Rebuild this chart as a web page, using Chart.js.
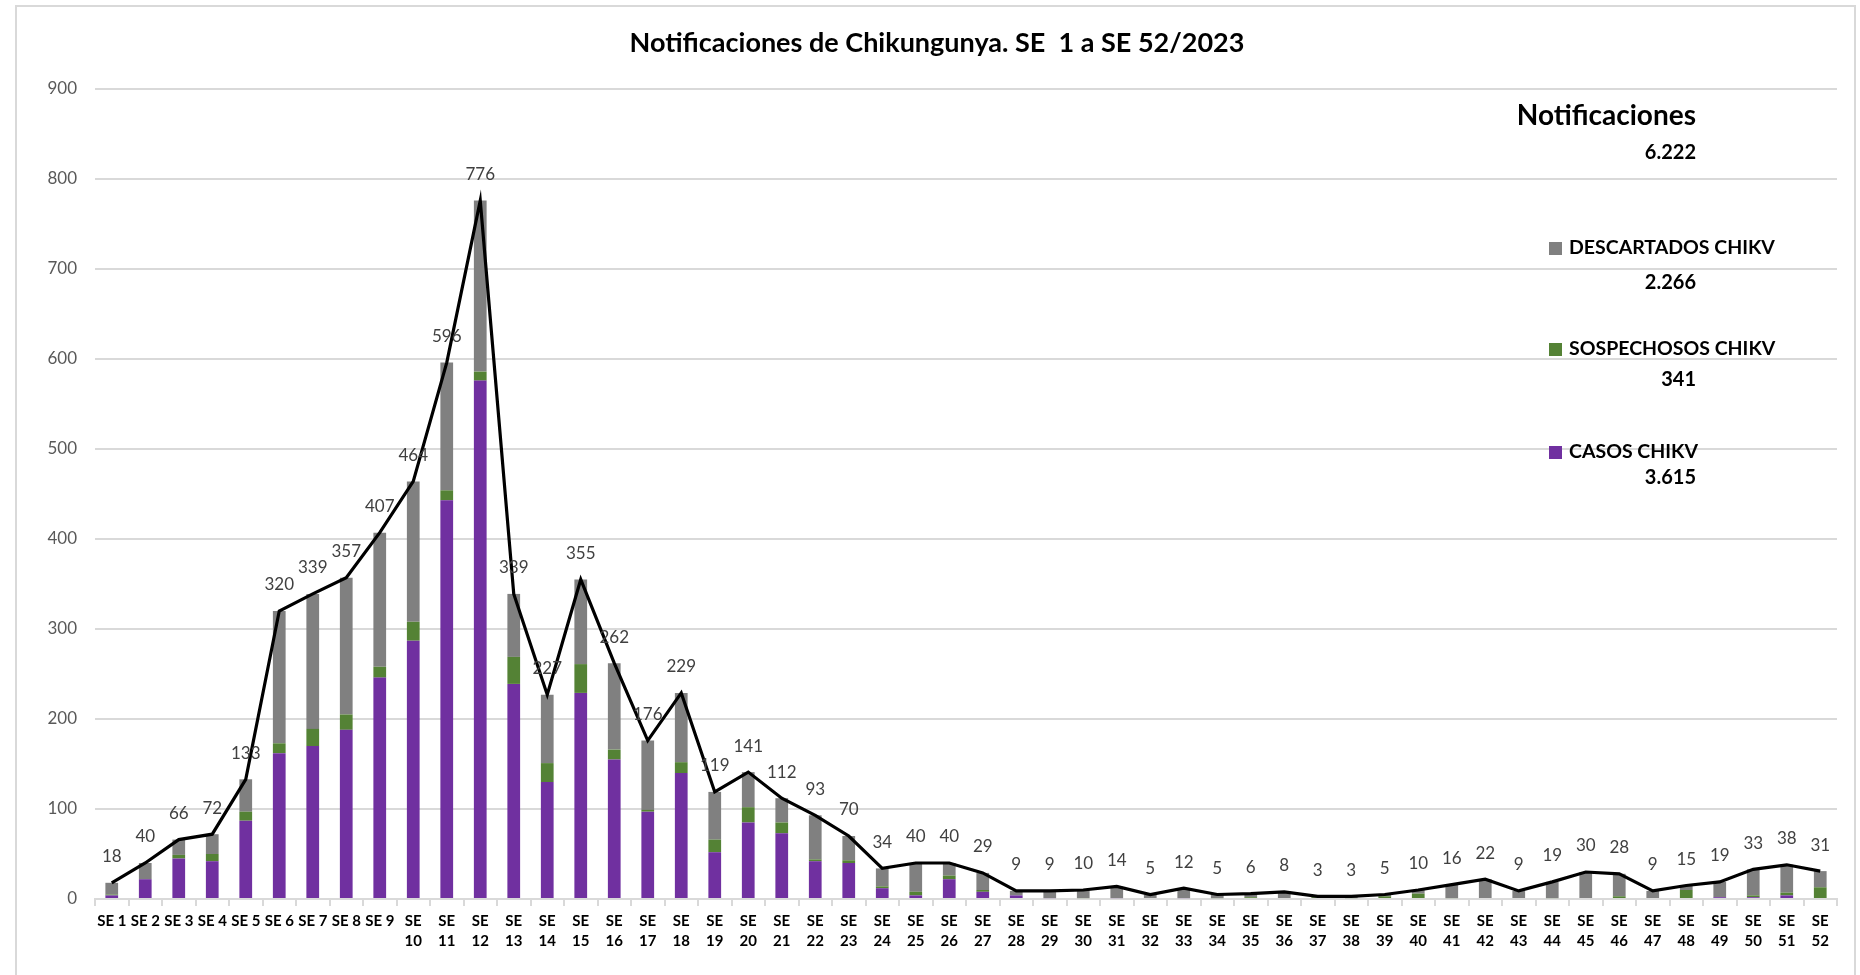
<!DOCTYPE html>
<html>
<head>
<meta charset="utf-8">
<script src="https://cdn.jsdelivr.net/npm/chart.js@4.4.1/dist/chart.umd.min.js"></script>
<style>
    html, body { margin:0; padding:0; background:#fff; }
    body { width:1860px; height:975px; position:relative; overflow:hidden; font-family:Lato, "Liberation Sans", sans-serif; }
    #frame { position:absolute; left:15px; top:5px; width:1841px; height:1000px; border:2px solid #d9d9d9; box-sizing:border-box; }
    #wrap { position:absolute; left:0; top:0; width:1860px; height:975px; }
    #title { position:absolute; left:0; width:1874px; top:25px; text-align:center; font-weight:bold; font-size:27px; color:#000; white-space:pre; }
    .rt { position:absolute; font-weight:bold; color:#000; white-space:pre; }
    .sw { position:absolute; width:13px; height:13px; }
</style>
</head>
<body>
<div id="frame"></div>
<div id="wrap"><canvas id="chart"></canvas></div>
<div id="title">Notificaciones de Chikungunya. SE  1 a SE 52/2023</div>
<div id="legend"></div>

<script>

/* =====================================
   DATA
===================================== */

const weeks = [
    "SE 1","SE 2","SE 3","SE 4","SE 5","SE 6","SE 7","SE 8","SE 9","SE 10",
    "SE 11","SE 12","SE 13","SE 14","SE 15","SE 16","SE 17","SE 18","SE 19","SE 20",
    "SE 21","SE 22","SE 23","SE 24","SE 25","SE 26","SE 27","SE 28","SE 29","SE 30",
    "SE 31","SE 32","SE 33","SE 34","SE 35","SE 36","SE 37","SE 38","SE 39","SE 40",
    "SE 41","SE 42","SE 43","SE 44","SE 45","SE 46","SE 47","SE 48","SE 49","SE 50",
    "SE 51","SE 52"
];

const casos = [
    4,22,45,42,87,162,170,188,246,287,
    443,576,239,130,229,155,97,140,52,85,
    73,42,40,12,4,22,8,4,1,0,
    1,0,1,0,0,0,0,0,0,0,
    0,0,0,0,0,0,0,0,2,2,
    4,0
];

const sospechosos = [
    1,0,4,8,10,11,19,17,12,21,
    11,10,30,21,32,11,2,12,14,17,
    12,2,3,2,4,4,2,0,0,1,
    0,0,0,1,2,0,2,1,3,6,
    1,0,0,1,0,3,0,10,0,2,
    3,13
];

const descartados = [
    13,18,17,22,36,147,150,152,149,156,
    142,190,70,76,94,96,77,77,53,39,
    27,49,27,20,32,14,19,5,8,9,
    13,5,11,4,4,8,1,2,2,4,
    15,22,9,18,30,25,9,5,17,29,
    31,18
];

const notificaciones = [
    18,40,66,72,133,320,339,357,407,464,
    596,776,339,227,355,262,176,229,119,141,
    112,93,70,34,40,40,29,9,9,10,
    14,5,12,5,6,8,3,3,5,10,
    16,22,9,19,30,28,9,15,19,33,
    38,31
];

const yTicks = [0,100,200,300,400,500,600,700,800,900];

const seriesNames = ["DESCARTADOS CHIKV","SOSPECHOSOS CHIKV","CASOS CHIKV"];
const seriesColors = ["#808080","#548235","#7030A0"];

/* =====================================
   HELPERS
===================================== */

function sum(arr){
    return arr.reduce((a,b) => a + b, 0);
}

function formatThousands(n){
    return String(n).replace(/\B(?=(\d{3})+(?!\d))/g, ".");
}

/* =====================================
   LEGEND (right side text block)
===================================== */

function buildLegend(){

    const box = document.getElementById("legend");
    const rightEdge = 1860 - 1696;

    let html = "";

    html += '<div class="rt" style="right:' + rightEdge + 'px;top:97px;font-size:28px;">Notificaciones</div>';
    html += '<div class="rt" style="right:' + rightEdge + 'px;top:139px;font-size:20px;">' +
        formatThousands(sum(notificaciones)) + '</div>';

    const rows = [
        { y:248, vy:282, values:descartados },
        { y:349, vy:379, values:sospechosos },
        { y:452, vy:477, values:casos }
    ];

    rows.forEach((row, i) => {

        html += '<div class="sw" style="left:1549px;top:' + (row.y - 6) + 'px;background:' + seriesColors[i] + ';"></div>';
        html += '<div class="rt" style="left:1569px;top:' + (row.y - 13) + 'px;font-size:19.5px;">' + seriesNames[i] + '</div>';
        html += '<div class="rt" style="right:' + rightEdge + 'px;top:' + (row.vy - 13) + 'px;font-size:20px;">' +
            formatThousands(sum(row.values)) + '</div>';

    });

    box.innerHTML = html;

}

/* =====================================
   TOTAL LABELS ABOVE THE LINE
===================================== */

const totalLabels = {

    id:"totalLabels",

    afterDatasetsDraw(chart){

        const meta = chart.getDatasetMeta(0);
        const ctx = chart.ctx;

        ctx.save();
        ctx.font = "17px Lato";
        ctx.fillStyle = "#404040";
        ctx.textAlign = "center";
        ctx.textBaseline = "middle";

        meta.data.forEach((pt, i) => {
            ctx.fillText(String(notificaciones[i]), pt.x, pt.y - 26);
        });

        ctx.restore();

    }

};

/* =====================================
   CHART
===================================== */

function initializeChart(){

    const ctx = document.getElementById("chart");

    new Chart(ctx,{

        data:{

            labels:weeks,

            datasets:[

                {
                    type:"line",
                    label:"Notificaciones",
                    data:notificaciones,
                    borderColor:"#000000",
                    borderWidth:3.2,
                    pointRadius:0,
                    tension:0,
                    stack:"total",
                    order:0
                },

                {
                    type:"bar",
                    label:seriesNames[2],
                    data:casos,
                    backgroundColor:seriesColors[2],
                    stack:"bars",
                    order:1
                },

                {
                    type:"bar",
                    label:seriesNames[1],
                    data:sospechosos,
                    backgroundColor:seriesColors[1],
                    stack:"bars",
                    order:1
                },

                {
                    type:"bar",
                    label:seriesNames[0],
                    data:descartados,
                    backgroundColor:seriesColors[0],
                    stack:"bars",
                    order:1
                }

            ]

        },

        options:{

            responsive:true,
            maintainAspectRatio:false,
            animation:false,
            devicePixelRatio:1,

            layout:{
                padding:{ left:0, top:89, right:23, bottom:0 }
            },

            datasets:{
                bar:{
                    categoryPercentage:1,
                    barPercentage:0.38
                }
            },

            plugins:{
                legend:{ display:false },
                title:{ display:false },
                tooltip:{ enabled:false }
            },

            scales:{

                x:{
                    stacked:true,
                    offset:true,
                    afterFit(scale){ scale.height = 76; },
                    grid:{
                        offset:true,
                        drawOnChartArea:false,
                        drawTicks:true,
                        tickLength:7,
                        color:"#d9d9d9",
                        lineWidth:2
                    },
                    border:{ color:"#d9d9d9", width:2 },
                    ticks:{
                        autoSkip:false,
                        maxRotation:0,
                        padding:5,
                        color:"#000000",
                        font:{ family:"Lato", size:15, weight:"bold", lineHeight:1.33 },
                        callback(value, index){
                            const num = weeks[index].split(" ")[1];
                            return Number(num) >= 10 ? ["SE", num] : weeks[index];
                        }
                    }
                },

                y:{
                    stacked:true,
                    min:yTicks[0],
                    max:yTicks[yTicks.length - 1],
                    afterFit(scale){ scale.width = 95; },
                    afterBuildTicks(scale){
                        scale.ticks = yTicks.map(v => ({ value:v }));
                    },
                    grid:{
                        drawTicks:false,
                        color:"#d9d9d9",
                        lineWidth:2
                    },
                    border:{ display:false },
                    ticks:{
                        padding:18,
                        color:"#595959",
                        font:{ family:"Lato", size:17 }
                    }
                }

            }

        },

        plugins:[totalLabels]

    });

}

document.addEventListener("DOMContentLoaded", () => {

    buildLegend();
    initializeChart();

});

</script>
</body>
</html>
